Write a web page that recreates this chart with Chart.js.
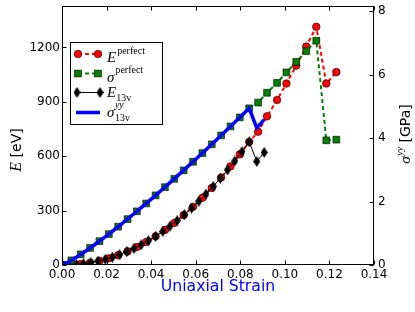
<!DOCTYPE html>
<html><head><meta charset="utf-8">
<script src="https://cdn.jsdelivr.net/npm/chart.js@4.4.0/dist/chart.umd.min.js"></script>
<style>html,body{margin:0;padding:0;background:#fff;}#wrap{position:relative;width:415px;height:312px;}</style>
</head><body><div id="wrap"><canvas id="c" width="415" height="312"></canvas></div>
<script>
// ---- data ----
const strainPerfect = [0,0.0042,0.0084,0.0126,0.0168,0.021,0.0252,0.0294,0.0336,0.0378,0.042,0.0462,0.0504,0.0546,0.0588,0.063,0.0672,0.0714,0.0756,0.0798,0.084,0.088,0.092,0.0965,0.1007,0.1051,0.1096,0.1141,0.1186,0.1231];
const ePerfect = [0,1.3,5.4,12.6,23.1,36.9,54.2,74.9,99.1,127,158,193.5,232,275,321,371,425,483,544,610,679,735,820,910,1001,1100,1205,1314,1001,1064];
const sigmaPerfect = [0,0.148,0.334,0.537,0.751,0.976,1.208,1.446,1.691,1.941,2.195,2.454,2.717,2.984,3.254,3.528,3.805,4.085,4.367,4.653,4.94,5.12,5.43,5.74,6.07,6.40,6.74,7.07,3.93,3.95];
const strain13v = [0,0.00323,0.00646,0.00969,0.01292,0.01615,0.01938,0.02261,0.02584,0.02907,0.0323,0.03553,0.03876,0.04199,0.04522,0.04845,0.05168,0.05491,0.05814,0.06137,0.0646,0.06783,0.07106,0.07429,0.07752,0.08075,0.084,0.0874,0.0907];
const e13v = [0,0.7,3.1,7.3,13.3,21.3,31.2,43.2,57.1,73.2,91.3,111.5,133.9,158.4,185,213.9,244.9,278.2,313.7,351.4,391.4,433.6,478.1,524.9,574,625.3,679,571,621];
const sigma13v = [0,0.109,0.246,0.395,0.553,0.718,0.889,1.064,1.244,1.428,1.615,1.806,1.999,2.196,2.394,2.596,2.8,3.005,3.213,3.422,3.634,3.848,4.063,4.28,4.498,4.718,4.94,4.32,4.58];
const xTicks = [0,0.02,0.04,0.06,0.08,0.10,0.12,0.14];
const eTicks = [0,300,600,900,1200];
const sigmaTicks = [0,2,4,6,8];

const pts = (xs, ys) => xs.map((x, i) => ({x: x, y: ys[i]}));

// thin diamond marker
const dia = document.createElement('canvas');
dia.width = 7; dia.height = 11;
(function(){const g = dia.getContext('2d'); g.fillStyle = '#000'; g.beginPath();
 g.moveTo(3.5,0); g.lineTo(7,5.5); g.lineTo(3.5,11); g.lineTo(0,5.5); g.closePath(); g.fill();})();

const TICKFONT = {family: 'DejaVu Sans', size: 12};
const SERIF = '"Liberation Serif", "DejaVu Serif", serif';

function drawMathRow(ctx, x, y, parts){
  // parts: [{t, font, dy}]
  let cx = x;
  parts.forEach(p => { ctx.font = p.font; ctx.fillText(p.t, cx, y + (p.dy||0)); cx += ctx.measureText(p.t).width + (p.gap||0); });
  return cx - x;
}
function measureParts(ctx, parts){ let w = 0; parts.forEach(p => { ctx.font = p.font; w += ctx.measureText(p.t).width + (p.gap||0); }); return w; }

const decor = {
  id: 'decor',
  afterDatasetsDraw(chart){
    const ctx = chart.ctx, a = chart.chartArea, s = chart.scales;
    ctx.save();
    ctx.strokeStyle = '#000'; ctx.lineWidth = 1;
    ctx.strokeRect(62.5, 6.5, 311, 258);
    ctx.beginPath();
    xTicks.forEach(v => { const px = Math.round(s.x.getPixelForValue(v)) + 0.5;
      ctx.moveTo(px, 264.5); ctx.lineTo(px, 260.5); ctx.moveTo(px, 6.5); ctx.lineTo(px, 10.5); });
    eTicks.forEach(v => { const py = Math.round(s.y.getPixelForValue(v)) + 0.5;
      ctx.moveTo(62.5, py); ctx.lineTo(66.5, py); });
    sigmaTicks.forEach(v => { const py = Math.round(s.ys.getPixelForValue(v)) + 0.5;
      ctx.moveTo(373.5, py); ctx.lineTo(369.5, py); });
    ctx.stroke();

    // legend
    ctx.fillStyle = '#fff'; ctx.fillRect(70.5, 42.5, 92, 82);
    ctx.strokeRect(70.5, 42.5, 92, 82);
    const rows = [54, 73.5, 92.5, 112.5];
    // red
    ctx.lineWidth = 2; ctx.setLineDash([4,3]); ctx.strokeStyle = '#ff0000';
    ctx.beginPath(); ctx.moveTo(78, rows[0]); ctx.lineTo(98, rows[0]); ctx.stroke();
    ctx.strokeStyle = '#008000';
    ctx.beginPath(); ctx.moveTo(78, rows[1]); ctx.lineTo(98, rows[1]); ctx.stroke();
    ctx.setLineDash([]);
    ctx.lineWidth = 1; ctx.strokeStyle = '#000';
    ctx.beginPath(); ctx.moveTo(77, rows[2]); ctx.lineTo(100, rows[2]); ctx.stroke();
    ctx.lineWidth = 3.5; ctx.strokeStyle = '#0000ff';
    ctx.beginPath(); ctx.moveTo(76, rows[3]); ctx.lineTo(100, rows[3]); ctx.stroke();
    ctx.lineWidth = 0.6; ctx.strokeStyle = '#000';
    [78, 98].forEach(mx => {
      ctx.fillStyle = '#ff0000'; ctx.beginPath(); ctx.arc(mx, rows[0], 3.8, 0, Math.PI*2); ctx.fill(); ctx.stroke();
      ctx.fillStyle = '#008000'; ctx.fillRect(mx-3.4, rows[1]-3.4, 6.8, 6.8); ctx.strokeRect(mx-3.4, rows[1]-3.4, 6.8, 6.8);
    });
    [77, 100].forEach(mx => ctx.drawImage(dia, mx-3.5, rows[2]-5.5));
    ctx.fillStyle = '#000'; ctx.textBaseline = 'alphabetic'; ctx.textAlign = 'left';
    const fBig = 'italic 15px ' + SERIF, fSup = '10px ' + SERIF, fSupI = 'italic 10px ' + SERIF;
    drawMathRow(ctx, 107, 61.5, [{t:'E', font:fBig, gap:1}, {t:'perfect', font:fSup, dy:-8}]);
    drawMathRow(ctx, 107, 81.5, [{t:'σ', font:fBig, gap:1}, {t:'perfect', font:fSup, dy:-9}]);
    drawMathRow(ctx, 107, 97, [{t:'E', font:fBig, gap:0}, {t:'13v', font:fSup, dy:3.5}]);
    ctx.font = fBig; ctx.fillText('σ', 107, 116.5);
    const sw = ctx.measureText('σ').width;
    ctx.font = fSupI; ctx.fillText('yy', 107 + sw + 0.5, 107.5);
    ctx.font = fSup; ctx.fillText('13v', 107 + sw + 0.5, 121);

    // axis titles
    ctx.fillStyle = '#0000ff'; ctx.textAlign = 'center'; ctx.textBaseline = 'middle';
    ctx.font = '15.7px "DejaVu Sans"'; ctx.fillText('Uniaxial Strain', 218, 287);
    ctx.fillStyle = '#000'; ctx.textAlign = 'left'; ctx.textBaseline = 'alphabetic';
    // left title (rotated)
    ctx.save(); ctx.translate(21, 150); ctx.rotate(-Math.PI/2);
    const lp = [{t:'E', font:'italic 16px ' + SERIF, gap:0}, {t:' [eV]', font:'14px "DejaVu Sans"'}];
    const lw = measureParts(ctx, lp);
    drawMathRow(ctx, -lw/2, 0, lp);
    ctx.restore();
    // right title (rotated)
    ctx.save(); ctx.translate(410, 134); ctx.rotate(-Math.PI/2);
    const rp = [{t:'σ', font:'italic 15px ' + SERIF, gap:0.5}, {t:'yy', font:'italic 10px ' + SERIF, dy:-7}, {t:' [GPa]', font:'14px "DejaVu Sans"'}];
    const rw = measureParts(ctx, rp);
    drawMathRow(ctx, -rw/2, 0, rp);
    ctx.restore();
    ctx.restore();
  }
};

new Chart(document.getElementById('c'), {
  type: 'line',
  data: { datasets: [
    { label: 'sigma13v', data: pts(strain13v, sigma13v), yAxisID: 'ys', borderColor: '#0000ff', borderWidth: 3.5, pointRadius: 0, order: 0, tension: 0 },
    { label: 'sigmaPerfect', data: pts(strainPerfect, sigmaPerfect), yAxisID: 'ys', borderColor: '#008000', borderWidth: 2, borderDash: [4,3],
      pointStyle: 'rect', pointRadius: 4.8, pointBackgroundColor: '#008000', pointBorderColor: '#000', pointBorderWidth: 0.6, order: 1 },
    { label: 'E13v', data: pts(strain13v, e13v), yAxisID: 'y', borderColor: '#000', borderWidth: 1,
      pointStyle: dia, order: 2 },
    { label: 'EPerfect', data: pts(strainPerfect, ePerfect), yAxisID: 'y', borderColor: '#ff0000', borderWidth: 2, borderDash: [4,3],
      pointStyle: 'circle', pointRadius: 3.8, pointBackgroundColor: '#ff0000', pointBorderColor: '#000', pointBorderWidth: 0.6, order: 3 }
  ]},
  options: {
    responsive: false, animation: false, events: [],
    layout: { padding: { top: 6, left: 0, right: 0, bottom: 0 } },
    plugins: { legend: { display: false }, tooltip: { enabled: false } },
    scales: {
      x: { type: 'linear', position: 'bottom', min: 0, max: 0.14,
        afterBuildTicks: sc => { sc.ticks = xTicks.map(v => ({value: v})); },
        afterFit: sc => { sc.height = 47; },
        grid: { display: false, drawTicks: false }, border: { display: false },
        ticks: { callback: v => v.toFixed(2), font: TICKFONT, color: '#000', padding: 3, maxRotation: 0, autoSkip: false } },
      y: { type: 'linear', position: 'left', min: 0, max: 1400,
        afterBuildTicks: sc => { sc.ticks = eTicks.map(v => ({value: v})); },
        afterFit: sc => { sc.width = 62; },
        grid: { display: false, drawTicks: false }, border: { display: false },
        ticks: { callback: v => String(v), font: TICKFONT, color: '#000', padding: 2 } },
      ys: { type: 'linear', position: 'right', min: 0, max: 8,
        afterBuildTicks: sc => { sc.ticks = sigmaTicks.map(v => ({value: v})); },
        afterFit: sc => { sc.width = 41; },
        grid: { display: false, drawTicks: false }, border: { display: false },
        ticks: { callback: v => String(v), font: TICKFONT, color: '#000', padding: 4 } }
    }
  },
  plugins: [decor]
});
</script></body></html>
